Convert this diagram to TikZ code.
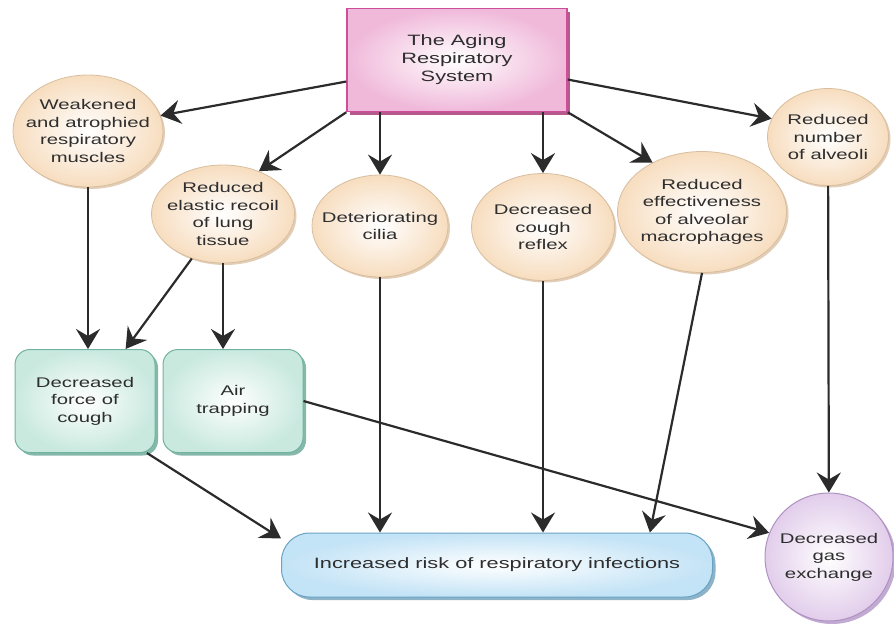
\documentclass[tikz,border=0pt]{standalone}
\usepackage{fontspec}
\setmainfont{Liberation Sans}[FakeStretch=1.45]
\usetikzlibrary{shapes.geometric,arrows.meta,shadows}
\definecolor{txtgray}{HTML}{2E2E2E}
\definecolor{linegray}{HTML}{2B2B2B}
\definecolor{peach}{HTML}{F7DDBF}
\definecolor{peachline}{HTML}{D8BE9F}
\definecolor{peachshadow}{HTML}{E2CDB6}
\definecolor{rootpink}{HTML}{F0B9DA}
\definecolor{rootline}{HTML}{CD4E99}
\definecolor{rootshadow}{HTML}{B9578F}
\definecolor{mint}{HTML}{C9E9DF}
\definecolor{mintline}{HTML}{72B2A1}
\definecolor{mintshadow}{HTML}{86B8A9}
\definecolor{skyblue}{HTML}{C3E3F6}
\definecolor{skyline}{HTML}{6AA3C4}
\definecolor{skyshadow}{HTML}{8DB3C9}
\definecolor{lilac}{HTML}{E2CDEB}
\definecolor{lilacline}{HTML}{AE92C2}
\definecolor{lilacshadow}{HTML}{C2ABD2}
\begin{document}
\begin{tikzpicture}[x=1pt,y=-1pt,
  every node/.style = {text=txtgray, align=center,
    font=\fontsize{14}{17.5}\selectfont},
  cause/.style = {shape=ellipse, draw=peachline, line width=0.8pt,
    inner color=white, outer color=peach,
    drop shadow={shadow xshift=2pt, shadow yshift=-2pt, opacity=1, fill=peachshadow}},
  root/.style  = {shape=rectangle, draw=rootline, line width=1.5pt,
    minimum width=220pt, minimum height=103pt,
    inner color=white, outer color=rootpink,
    font=\fontsize{15}{18}\selectfont,
    drop shadow={shadow xshift=3pt, shadow yshift=-3pt, opacity=1, fill=rootshadow}},
  outro/.style = {shape=rectangle, rounded corners=15pt, draw=mintline, line width=1pt,
    minimum width=140pt, minimum height=103pt,
    inner color=white, outer color=mint,
    drop shadow={shadow xshift=3pt, shadow yshift=-3pt, opacity=1, fill=mintshadow}},
  risk/.style  = {shape=rectangle, rounded corners=28pt, draw=skyline, line width=1pt,
    minimum width=431pt, minimum height=64pt,
    inner color=white, outer color=skyblue,
    font=\fontsize{15}{18}\selectfont,
    drop shadow={shadow xshift=3pt, shadow yshift=-3pt, opacity=1, fill=skyshadow}},
  gas/.style   = {shape=circle, draw=lilacline, line width=1pt, minimum size=128pt,
    inner color=white, outer color=lilac,
    drop shadow={shadow xshift=3pt, shadow yshift=-3pt, opacity=1, fill=lilacshadow}},
  arr/.style   = {draw=linegray, line width=2.2pt,
    -{Stealth[length=20pt, width=24pt, inset=7pt]}}]
\useasboundingbox (0,0) rectangle (894,625);

\node[root] (aging) at (457,60) {The Aging\\Respiratory\\System};

\node[cause, minimum width=150pt, minimum height=112pt,
  label={center:{Weakened\\and atrophied\\respiratory\\muscles}}] (weakened) at (88,131) {};
\node[cause, minimum width=143pt, minimum height=98pt,
  label={center:{Reduced\\elastic recoil\\of lung\\tissue}}] (recoil) at (223,214) {};
\node[cause, minimum width=136pt, minimum height=102pt,
  label={center:{Deteriorating\\cilia}}] (cilia) at (380,226) {};
\node[cause, minimum width=143pt, minimum height=107pt,
  label={center:{Decreased\\cough\\reflex}}] (reflex) at (543,227) {};
\node[cause, minimum width=169pt, minimum height=121pt,
  label={center:{Reduced\\effectiveness\\of alveolar\\macrophages}}] (macro) at (702,212) {};
\node[cause, minimum width=121pt, minimum height=97pt,
  label={center:{Reduced\\number\\of alveoli}}] (alveoli) at (828,137) {};

\node[outro] (force) at (85,401) {Decreased\\force of\\cough};
\node[outro] (trap) at (233,401) {Air\\trapping};

\node[risk] (infect) at (497,565) {Increased risk of respiratory infections};
\node[gas, label={center:{Decreased\\gas\\exchange}}] (exchange) at (829,557) {};

\draw[arr] (aging.191) -- (weakened.12);
\draw[arr] (aging.south west) -- (recoil.50);
\draw[arr] (aging.south -| cilia) -- (cilia);
\draw[arr] (aging.south -| reflex) -- (reflex);
\draw[arr] (aging.south east) -- (macro.135);
\draw[arr] (aging.350) -- (alveoli.162);

\draw[arr] (weakened) -- (force.north -| weakened);
\draw[arr] (recoil.235) -- (force.52);
\draw[arr] (recoil) -- (trap.north -| recoil);
\draw[arr] (cilia) -- (infect.north -| cilia);
\draw[arr] (reflex) -- (infect.north -| reflex);
\draw[arr] (macro.south) -- (infect.12.7);
\draw[arr] (alveoli) -- (exchange);
\draw[arr] (force.320) -- (infect.173);
\draw[arr] (trap.east) -- (exchange.158);
\end{tikzpicture}
\end{document}
